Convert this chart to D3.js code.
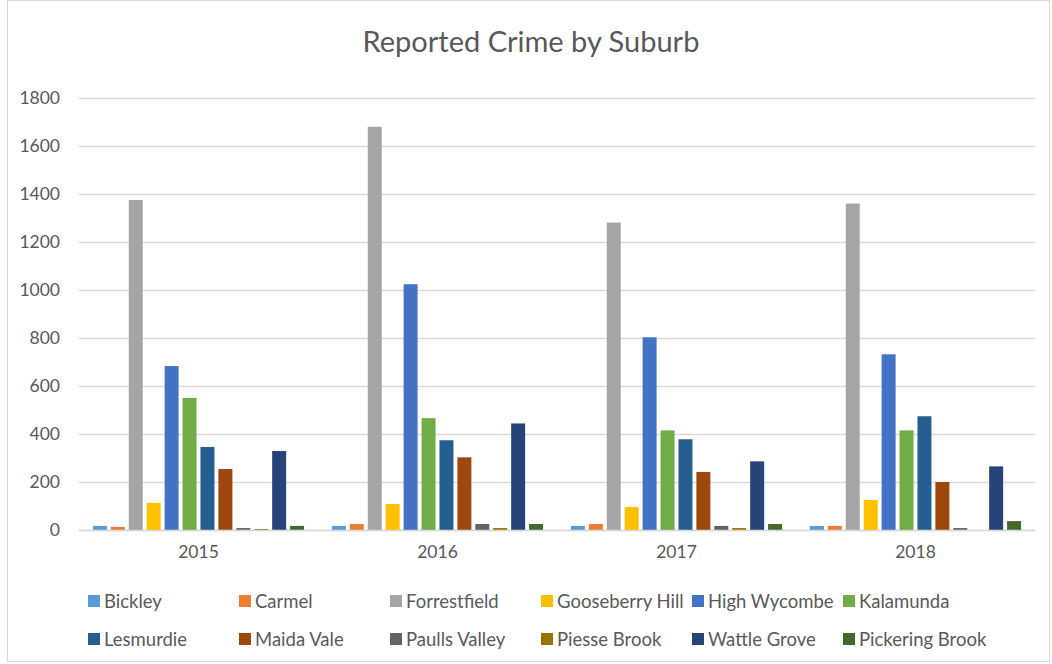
<!DOCTYPE html>
<html>
<head>
<meta charset="utf-8">
<script src="https://cdn.jsdelivr.net/npm/d3@7"></script>
<style>
  body { margin: 0; background: #fff; }
  svg { display: block; }
  text { font-family: Lato, "Open Sans", sans-serif; fill: #595959; }
</style>
</head>
<body>
<svg id="chart" width="1052" height="664"></svg>
<script>
const years = ["2015", "2016", "2017", "2018"];
const suburbs = ["Bickley", "Carmel", "Forrestfield", "Gooseberry Hill", "High Wycombe", "Kalamunda",
                 "Lesmurdie", "Maida Vale", "Paulls Valley", "Piesse Brook", "Wattle Grove", "Pickering Brook"];
const colors = ["#5B9BD5", "#ED7D31", "#A5A5A5", "#FFC000", "#4472C4", "#70AD47",
                "#255E91", "#9E480E", "#636363", "#997300", "#264478", "#43682B"];
// values per suburb, ordered by year 2015..2018
const bickley        = [17, 17, 17, 17];
const carmel         = [13, 25, 25, 17];
const forrestfield   = [1375, 1680, 1281, 1360];
const gooseberryHill = [113, 108, 96, 125];
const highWycombe    = [683, 1024, 803, 732];
const kalamunda      = [550, 466, 415, 415];
const lesmurdie      = [346, 374, 378, 474];
const maidaVale      = [254, 303, 242, 200];
const paullsValley   = [8, 25, 17, 8];
const piesseBrook    = [4, 8, 8, 0];
const wattleGrove    = [329, 444, 286, 265];
const pickeringBrook = [17, 25, 25, 37];
const yTicks = [0, 200, 400, 600, 800, 1000, 1200, 1400, 1600, 1800];
const title = "Reported Crime by Suburb";

const seriesValues = [bickley, carmel, forrestfield, gooseberryHill, highWycombe, kalamunda,
                      lesmurdie, maidaVale, paullsValley, piesseBrook, wattleGrove, pickeringBrook];

const svg = d3.select("#chart");
const plotLeft = 79, plotRight = 1035, plotTop = 98, plotBottom = 530;
const fontFam = "Lato, 'Open Sans', sans-serif";

// frame
svg.append("rect").attr("x", 7.5).attr("y", 0.5).attr("width", 1042).attr("height", 661)
  .attr("fill", "none").attr("stroke", "#d9d9d9").attr("stroke-width", 1);

const y = d3.scaleLinear().domain([0, 1800]).range([plotBottom, plotTop]);
const x0 = d3.scaleBand().domain(years).range([plotLeft, plotRight]).paddingInner(0.1).paddingOuter(0.05);
const x1 = d3.scaleBand().domain(suburbs).range([0, x0.bandwidth()]).paddingInner(0.22).paddingOuter(0.11);

// title
svg.append("text").attr("x", 531).attr("y", 52).attr("text-anchor", "middle")
  .style("font-size", "29px").text(title);

// gridlines
svg.append("g").selectAll("line").data(yTicks).join("line")
  .attr("x1", plotLeft).attr("x2", plotRight)
  .attr("y1", d => Math.round(y(d)) + 0.5).attr("y2", d => Math.round(y(d)) + 0.5)
  .attr("stroke", "#d9d9d9").attr("stroke-width", 1.3);

// y axis labels
const yAxis = d3.axisLeft(y).tickValues(yTicks).tickFormat(d3.format("d")).tickSize(0).tickPadding(0);
const gy = svg.append("g").attr("transform", `translate(${plotLeft - 19},0)`).call(yAxis);
gy.select(".domain").remove();
gy.selectAll("text").style("font-size", "17.5px").style("font-family", fontFam).attr("fill", "#595959");

// x axis labels
const xAxis = d3.axisBottom(x0).tickSize(0).tickPadding(0);
const gx = svg.append("g").attr("transform", `translate(0,${plotBottom + 16})`).call(xAxis);
gx.select(".domain").remove();
gx.selectAll("text").style("font-size", "17.5px").style("font-family", fontFam).attr("fill", "#595959");

// bars
const groups = svg.append("g").selectAll("g").data(years).join("g")
  .attr("transform", d => `translate(${x0(d)},0)`);
groups.selectAll("rect")
  .data((yr, yi) => suburbs.map((s, si) => ({ s, si, v: seriesValues[si][yi] })))
  .join("rect")
  .attr("x", d => x1(d.s))
  .attr("width", x1.bandwidth())
  .attr("y", d => y(d.v))
  .attr("height", d => y(0) - y(d.v))
  .attr("fill", d => colors[d.si]);

// baseline
svg.append("line").attr("x1", plotLeft).attr("x2", plotRight)
  .attr("y1", Math.round(y(0)) + 0.5).attr("y2", Math.round(y(0)) + 0.5)
  .attr("stroke", "#d9d9d9").attr("stroke-width", 1.3);

// legend
const legend = svg.append("g");
const items = legend.selectAll("g").data(suburbs).join("g")
  .attr("transform", (d, i) => `translate(${88 + (i % 6) * 151},${i < 6 ? 595 : 633})`);
items.append("rect").attr("width", 12).attr("height", 12).attr("fill", (d, i) => colors[i]);
items.append("text").attr("x", 16).attr("y", 12.5).style("font-size", "18.5px").text(d => d);
</script>
</body>
</html>
